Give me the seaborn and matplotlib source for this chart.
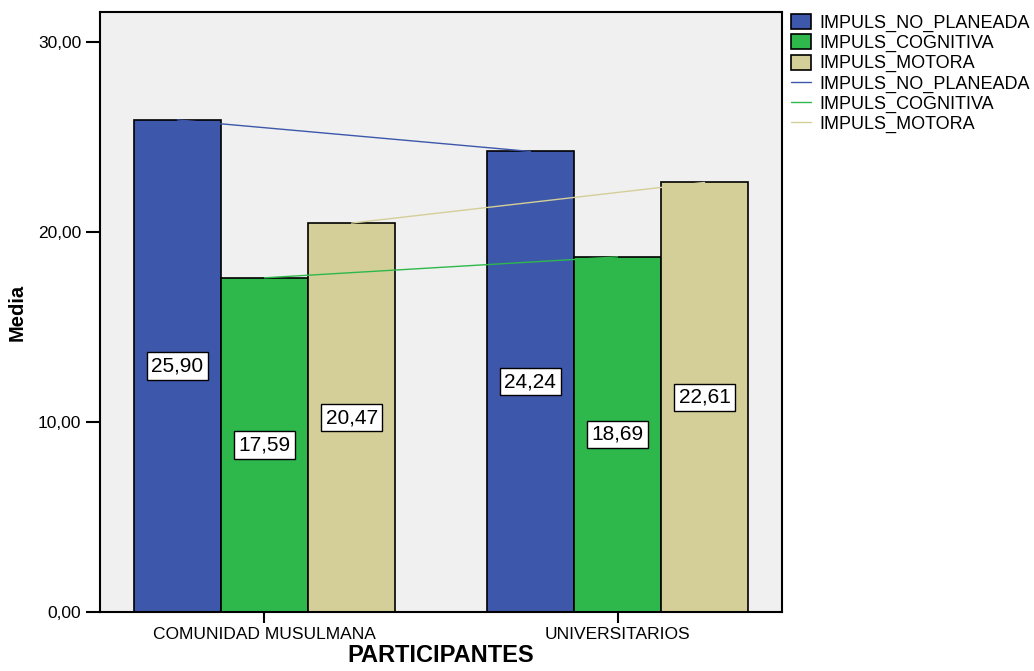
import matplotlib
matplotlib.use("Agg")
import matplotlib.pyplot as plt
from matplotlib.patches import Patch
from matplotlib.lines import Line2D
import seaborn as sns
import pandas as pd

# Mean impulsivity scores by participant group
groups = ["COMUNIDAD MUSULMANA", "UNIVERSITARIOS"]
scales = ["IMPULS_NO_PLANEADA", "IMPULS_COGNITIVA", "IMPULS_MOTORA"]
no_planeada = [25.90, 24.24]
cognitiva = [17.59, 18.69]
motora = [20.47, 22.61]
y_ticks = [0, 10, 20, 30]

colors = ["#3D57AA", "#2EB84C", "#D4CF99"]

rows = []
for scale, vals in zip(scales, [no_planeada, cognitiva, motora]):
    for g, v in zip(groups, vals):
        rows.append({"PARTICIPANTES": g, "Escala": scale, "Media": v})
df = pd.DataFrame(rows)

sns.set_style("white")
plt.rcParams["font.family"] = ["Liberation Sans", "DejaVu Sans"]
plt.rcParams["text.color"] = "black"
plt.rcParams["axes.labelcolor"] = "black"
plt.rcParams["xtick.color"] = "black"
plt.rcParams["ytick.color"] = "black"

fig = plt.figure(figsize=(10.34, 6.71), dpi=100)
ax = fig.add_axes([100 / 1034, 59 / 671, 682 / 1034, 600 / 671])
ax.set_facecolor("#F0F0F0")

sns.barplot(data=df, x="PARTICIPANTES", y="Media", hue="Escala",
            hue_order=scales, order=groups, palette=colors, saturation=1,
            width=0.74, gap=0, edgecolor="black", linewidth=1.2,
            errorbar=None, ax=ax, legend=False, zorder=2)

# Connect the means of each scale across groups and label each bar
for container, color, vals in zip(ax.containers, colors, [no_planeada, cognitiva, motora]):
    xs = [p.get_x() + p.get_width() / 2 for p in container.patches]
    ax.plot(xs, vals, color=color, linewidth=1.0, zorder=3)
    for x, v in zip(xs, vals):
        ax.text(x, v / 2, f"{v:.2f}".replace(".", ","), ha="center", va="center",
                fontsize=15, color="black", zorder=4,
                bbox=dict(boxstyle="square,pad=0.2", facecolor="white",
                          edgecolor="black", linewidth=1.0))

ax.set_xlim(-0.466, 1.466)
ax.set_ylim(0, 31.58)
ax.set_yticks(y_ticks)
ax.set_yticklabels([f"{t:.2f}".replace(".", ",") for t in y_ticks], fontsize=12.5)
ax.tick_params(axis="x", labelsize=12.5, length=8, width=1.5, direction="out",
               colors="black", bottom=True, pad=3)
ax.tick_params(axis="y", length=10, width=1.5, direction="out", colors="black", left=True)
for s in ax.spines.values():
    s.set_visible(True)
    s.set_color("black")
    s.set_linewidth(1.5)

ax.set_xlabel("PARTICIPANTES", fontsize=17, fontweight="bold", labelpad=1, color="black")
ax.set_ylabel("Media", fontsize=14.5, fontweight="bold", labelpad=8, color="black")

handles = [Patch(facecolor=c, edgecolor="black", linewidth=1.2) for c in colors]
handles += [Line2D([0], [0], color=c, linewidth=1.0) for c in colors]
labels = scales + scales
ax.legend(handles, labels, loc="upper left", bbox_to_anchor=(1.005, 1.005),
          frameon=False, fontsize=13, handlelength=1.1, handleheight=0.9,
          labelspacing=0.12, handletextpad=0.5, borderaxespad=0.2, borderpad=0.1)

fig.savefig("out.png", dpi=100, facecolor="white")
